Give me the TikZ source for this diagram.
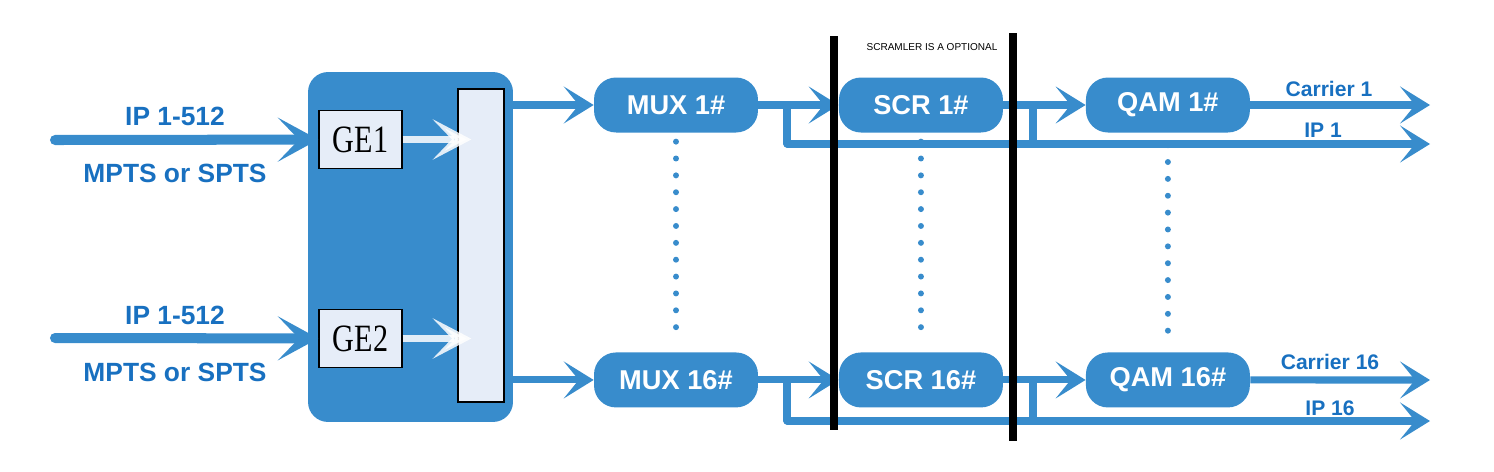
\documentclass[tikz,border=0pt]{standalone}
\usepackage{fontspec}
\setmainfont{Liberation Sans}
\newfontfamily\gefont{Liberation Serif}
\usetikzlibrary{positioning,arrows.meta}
\definecolor{modblue}{RGB}{56,140,204}
\definecolor{txtblue}{RGB}{24,112,192}
\definecolor{panelc}{RGB}{230,237,248}
\tikzset{
  blk/.style={fill=modblue,rounded corners=0.44cm,minimum width=3.28cm,minimum height=1.1cm,
    inner sep=0pt,text=white,font=\bfseries\fontsize{15.5}{18}\selectfont},
  gebox/.style={draw=black,fill=panelc,line width=0.8pt,minimum width=1.66cm,minimum height=1.16cm,
    inner sep=0pt,font=\gefont\fontsize{22}{24}\selectfont},
  flow/.style={draw=modblue,line width=4pt,-{Stealth[length=17pt,width=21pt,inset=8.5pt]}},
  inflow/.style={draw=modblue,line width=5.7pt,line cap=round,-{Stealth[length=23pt,width=25pt,inset=12pt]}},
  bypass/.style={draw=modblue,line width=4pt,line cap=round},
  ghost/.style={draw=white,draw opacity=0.85,fill opacity=0.85,line width=3.6pt,
    -{Stealth[length=22pt,width=23pt,inset=11pt]}},
  bar/.style={line width=5pt},
  dotline/.style={draw=modblue,line width=3.4pt,line cap=round,dash pattern=on 0pt off 9.6pt},
  lbl/.style={text=txtblue,font=\bfseries\fontsize{15}{18}\selectfont},
  outlbl/.style={text=txtblue,font=\bfseries\fontsize{12}{14}\selectfont}
}
\begin{document}
\begin{tikzpicture}[x=0.02cm,y=-0.02cm,every node/.style={on grid}]
  \useasboundingbox (0,0) rectangle (1494,471);
  \node[fill=modblue,rounded corners=0.4cm,minimum width=4.1cm,minimum height=7cm] (box) at (410.5,247) {};
  \node[draw=black,fill=panelc,line width=0.8pt,minimum width=0.92cm,minimum height=6.26cm,inner sep=0pt] (panel) at (481,245.5) {};
  \node[gebox] (ge1) at (360.5,139.5) {\scalebox{0.78}[1]{GE1}};
  \node[gebox] (ge2) at (360.5,338.5) {\scalebox{0.78}[1]{GE2}};
  \coordinate (in1) at (55,140);
  \coordinate (in2) at (55,338);
  \node[lbl] (ipa) at (175,116) {IP 1-512};
  \node[lbl] (mpa) at (175,173) {MPTS or SPTS};
  \node[lbl] (ipb) at (175,315) {IP 1-512};
  \node[lbl] (mpb) at (175,372) {MPTS or SPTS};
  \draw[inflow] (in1) -- (ge1);
  \draw[inflow] (in2) -- (ge2);
  \draw[ghost,shorten >=-8pt] (ge1) -- (ge1 -| panel.west);
  \draw[ghost,shorten >=-8pt] (ge2) -- (ge2 -| panel.west);

  \node[blk] (mux1) at (676,105) {MUX 1\#};
  \node[blk,right=4.9cm of mux1] (scr1) {SCR 1\#};
  \node[blk,right=4.94cm of scr1] (qam1) {QAM 1\#};
  \node[blk,below=5.5cm of mux1] (mux16) {MUX 16\#};
  \node[blk,right=4.9cm of mux16] (scr16) {SCR 16\#};
  \node[blk,right=4.94cm of scr16] (qam16) {QAM 16\#};

  \coordinate (j1) at (787,105);
  \coordinate (k1) at (787,144);
  \coordinate (h1) at (1033,105);
  \coordinate (ip1end) at (1430,144);
  \coordinate (c1end) at (1430,105);
  \coordinate (j16) at (787,380);
  \coordinate (k16) at (787,421);
  \coordinate (h16) at (1033,380);
  \coordinate (ip16end) at (1430,421);
  \coordinate (c16end) at (1430,380);

  \draw[flow] (box.east |- mux1) -- (mux1);
  \draw[flow] (box.east |- mux16) -- (mux16);
  \draw[flow] (mux1) -- (scr1);
  \draw[flow] (scr1) -- (qam1);
  \draw[flow] (qam1) -- (c1end);
  \draw[bypass] (j1) -- (k1);
  \draw[bypass] (h1) -- (h1 |- k1);
  \draw[flow,line cap=round] (k1) -- (ip1end);
  \draw[flow] (mux16) -- (scr16);
  \draw[flow] (scr16) -- (qam16);
  \draw[flow] (qam16) -- (c16end);
  \draw[bypass] (j16) -- (k16);
  \draw[bypass] (h16) -- (h16 |- k16);
  \draw[flow,line cap=round] (k16) -- (ip16end);

  \node[outlbl] (car1) at (1329,89) {Carrier 1};
  \node[outlbl] (ipo1) at (1323,130) {IP 1};
  \node[outlbl] (car16) at (1330,362) {Carrier 16};
  \node[outlbl] (ipo16) at (1330,408) {IP 16};

  \draw[dotline,shorten <=5pt,shorten >=7pt] (mux1.south) -- (mux16.north);
  \draw[dotline,shorten <=5pt,shorten >=7pt] (scr1.south) -- (scr16.north);
  \draw[dotline,shorten <=7pt,shorten >=4pt] (qam1.south) -- (qam16.north);

  \draw[bar] (834,36) -- (834,430);
  \draw[bar] (1013,33) -- (1013,441);
  \node[font=\fontsize{5.7}{7}\selectfont] (note) at (932,47) {SCRAMLER IS A OPTIONAL};
\end{tikzpicture}
\end{document}
